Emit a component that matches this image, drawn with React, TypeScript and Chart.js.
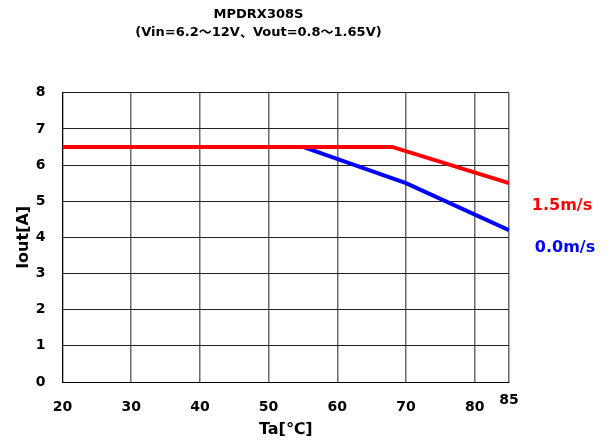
import React, { useEffect, useRef } from 'react';
import { Chart, registerables } from 'chart.js';

Chart.register(...registerables);

const FONT = '"DejaVu Sans", "Noto Sans CJK JP", sans-serif';

const titleLines = ['MPDRX308S', '(Vin=6.2～12V、Vout=0.8～1.65V)'];
const xTitle = 'Ta[℃]';
const yTitle = 'Iout[A]';
const xTickValues = [20, 30, 40, 50, 60, 70, 80, 85];
const yTickValues = [0, 1, 2, 3, 4, 5, 6, 7, 8];

const seriesNames = ['1.5m/s', '0.0m/s'];
const seriesColors = ['#ff0000', '#0000ff'];
const redTa = [20, 68, 85];
const redIout = [6.5, 6.5, 5.5];
const blueTa = [55, 70, 85];
const blueIout = [6.5, 5.5, 4.2];
// vertical anchor (in Iout units) for the right-side series labels
const seriesLabelAnchor = [4.87, 3.7];

export default function App() {
  const ref = useRef<HTMLCanvasElement | null>(null);

  useEffect(() => {
    if (!ref.current) return;

    const overlay = {
      id: 'overlay',
      afterDraw(chart: any) {
        const { ctx, chartArea, scales } = chart;
        const xs = scales.x;
        const ys = scales.y;
        ctx.save();
        // raised "85" tick label
        ctx.font = `bold 14px ${FONT}`;
        ctx.fillStyle = '#000';
        ctx.textAlign = 'center';
        ctx.textBaseline = 'middle';
        ctx.fillText('85', xs.getPixelForValue(85), chartArea.bottom + 18);
        // series labels
        ctx.font = `bold 16px ${FONT}`;
        seriesNames.forEach((name, i) => {
          ctx.fillStyle = seriesColors[i];
          ctx.fillText(name, chartArea.right + 53 + i * 3, ys.getPixelForValue(seriesLabelAnchor[i]));
        });
        ctx.restore();
      },
    };

    const chart = new Chart(ref.current, {
      type: 'line',
      data: {
        datasets: [
          {
            label: seriesNames[0],
            data: redTa.map((x, i) => ({ x, y: redIout[i] })),
            borderColor: seriesColors[0],
            borderWidth: 4,
            pointRadius: 0,
            tension: 0,
          },
          {
            label: seriesNames[1],
            data: blueTa.map((x, i) => ({ x, y: blueIout[i] })),
            borderColor: seriesColors[1],
            borderWidth: 4,
            pointRadius: 0,
            tension: 0,
          },
        ],
      },
      options: {
        responsive: false,
        animation: false,
        devicePixelRatio: 1,
        layout: { padding: { left: 8, right: 96, top: 0, bottom: 4.4 } },
        plugins: {
          legend: { display: false },
          tooltip: { enabled: false },
          title: {
            display: true,
            text: titleLines,
            color: '#000',
            font: { family: FONT, size: 13, weight: 'bold', lineHeight: 1.35 },
            padding: { top: 6, bottom: 51.6 },
          },
        },
        scales: {
          x: {
            type: 'linear',
            min: 20,
            max: 85,
            afterBuildTicks: (scale: any) => {
              scale.ticks = xTickValues.map((v) => ({ value: v }));
            },
            ticks: {
              autoSkip: false,
              maxRotation: 0,
              padding: 3,
              color: '#000',
              font: { family: FONT, size: 14, weight: 'bold' },
              callback: (v: any) => (Number(v) === 85 ? '' : String(v)),
            },
            grid: {
              color: '#6a6a6a',
              lineWidth: 1.5,
              drawTicks: true,
              tickLength: 14.3,
              tickColor: 'rgba(0,0,0,0)',
            },
            border: { display: true, color: '#000', width: 1 },
            title: {
              display: true,
              text: xTitle,
              color: '#000',
              font: { family: FONT, size: 16, weight: 'bold' },
              padding: { top: 1.3, bottom: 0 },
            },
          },
          y: {
            type: 'linear',
            min: 0,
            max: 8,
            afterBuildTicks: (scale: any) => {
              scale.ticks = yTickValues.map((v) => ({ value: v }));
            },
            ticks: {
              padding: 2,
              color: '#000',
              font: { family: FONT, size: 14, weight: 'bold' },
            },
            grid: {
              color: '#222',
              lineWidth: 1,
              drawTicks: true,
              tickLength: 15,
              tickColor: 'rgba(0,0,0,0)',
            },
            border: { display: true, color: '#000', width: 1 },
            title: {
              display: true,
              text: yTitle,
              color: '#000',
              font: { family: FONT, size: 16, weight: 'bold' },
              padding: { top: 6.1, bottom: 0.5 },
            },
          },
        },
      },
      plugins: [overlay],
    } as any);

    return () => chart.destroy();
  }, []);

  return (
    <div style={{ position: 'absolute', left: 0, top: 0, width: 605, height: 444, background: '#fff' }}>
      <canvas ref={ref} width={605} height={444} />
    </div>
  );
}
